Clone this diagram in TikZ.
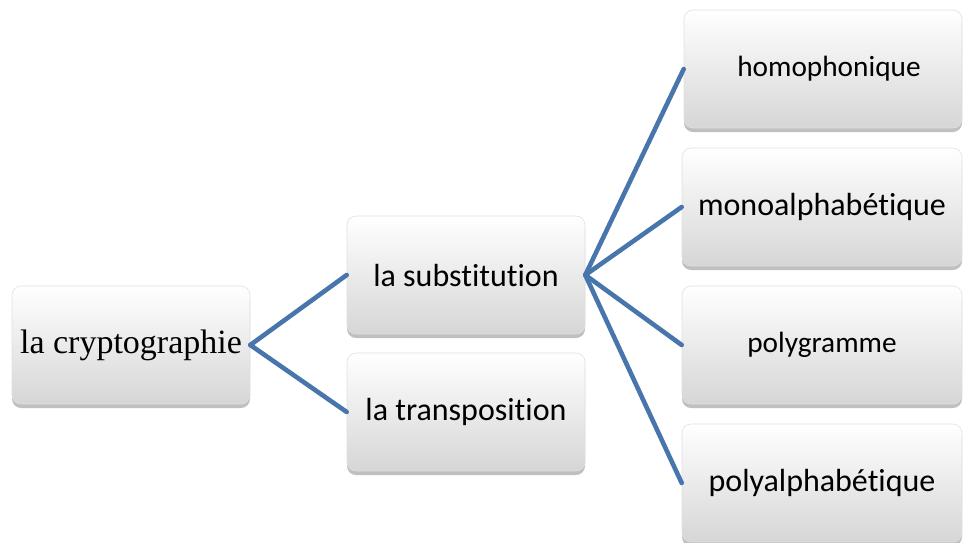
\documentclass[tikz,border=0pt]{standalone}
\usepackage{fontspec}
\setmainfont{Carlito}[Ligatures=NoCommon]
\newfontfamily\titlefont{Liberation Serif}
\usetikzlibrary{shadows,shadings}
\definecolor{linkblue}{RGB}{72,117,172}
\definecolor{boxtop}{RGB}{255,255,255}
\definecolor{boxbottom}{RGB}{214,214,214}
\tikzset{
  box/.style={rounded corners=9pt, minimum width=#1, minimum height=118pt,
    top color=boxtop, bottom color=boxbottom, draw=black!12, line width=0.6pt,
    drop shadow={shadow xshift=0pt, shadow yshift=-4pt, opacity=0.45, fill=black!55},
    inner sep=0pt, align=center, font=\fontsize{32}{36}\selectfont},
  box/.default=238pt,
  smalltext/.style={font=\fontsize{29.3}{34}\selectfont},
  link/.style={draw=linkblue, line width=4.6pt, line cap=round}
}
\begin{document}
\begin{tikzpicture}[x=1pt,y=-1pt]
  \useasboundingbox (0,0) rectangle (964,542);
  % tree of boxes
  \node[box, font=\titlefont\fontsize{34}{38}\selectfont] (root) at (131,345) {la cryptographie};
  \node[box] (sub) at (466,275) {la substitution};
  \node[box] (tra) at (466,412) {la transposition};
  \node[box=278pt, smalltext] (hom) at (823,69) {\hspace*{12pt}homophonique};
  \node[box=280pt] (mon) at (822,207) {monoalphabétique};
  \node[box=280pt, smalltext] (pgr) at (822,345) {polygramme};
  \node[box=280pt] (pal) at (822,483) {polyalphabétique};
  % connectors
  \draw[link] (root.east) -- (sub.west);
  \draw[link] (root.east) -- (tra.west);
  \draw[link] (sub.east) -- (hom.west);
  \draw[link] (sub.east) -- (mon.west);
  \draw[link] (sub.east) -- (pgr.west);
  \draw[link] (sub.east) -- (pal.west);
\end{tikzpicture}
\end{document}
